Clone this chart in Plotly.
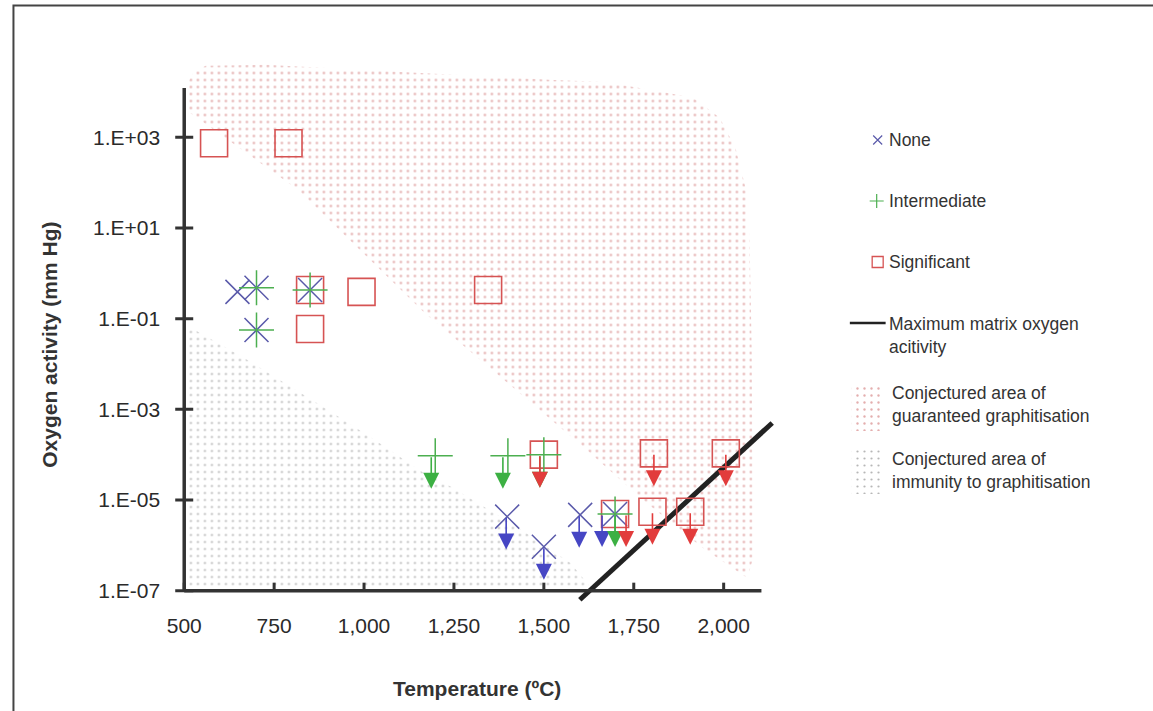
import math
import plotly.graph_objects as go

# ---------------- data ----------------
none_T = [648, 701, 701, 850, 1398, 1500, 1601, 1698]
none_O = [0.39, 0.48, 0.056, 0.43, 4.3e-6, 9.3e-7, 4.7e-6, 4.9e-6]
none_upper = [0, 0, 0, 0, 1, 1, 1, 1]
none_arrow_dx = [0, 0, 0, 0, -1, 0, -1, -13]

inter_T = [701, 701, 850, 1198, 1400, 1500, 1698]
inter_O = [0.48, 0.056, 0.43, 9.5e-5, 9.5e-5, 1.0e-4, 4.9e-6]
inter_upper = [0, 0, 0, 1, 1, 1, 1]
inter_arrow_dx = [0, 0, 0, -4, -5, -4, 0]

sig_T = [583, 790, 850, 850, 993, 1345, 1500, 1698, 1806, 1802, 1907, 2006]
sig_O = [740, 740, 0.43, 0.059, 0.39, 0.43, 1.0e-4, 4.9e-6, 1.07e-4, 5.5e-6, 5.5e-6, 1.07e-4]
sig_upper = [0, 0, 0, 0, 0, 0, 1, 1, 1, 1, 1, 1]
sig_arrow_dx = [0, 0, 0, 0, 0, 0, -4, 11, 0, 0, 0, 0]

line_T = [1600, 2135]
line_O = [6.3e-8, 5.0e-4]

guar_T = [505, 507, 527, 560, 726, 892, 1196, 1514, 1666, 1804, 1915, 1989, 2033,
          2061, 2072, 2078, 2080, 2080, 2066, 1942, 1776, 1610, 1168, 817, 505]
guar_logO = [3.60, 4.16, 4.45, 4.58, 4.60, 4.53, 4.40, 4.27, 4.22, 4.04, 3.87, 3.43, 2.76,
             1.88, 0.74, -1.69, -4.34, -6.33, -6.72, -6.06, -5.00, -3.83, -0.87, 1.84, 3.60]

imm_T = [505, 505, 661, 752, 899, 1029, 1167, 1242, 1425, 1574, 1638, 505]
imm_logO = [-7.0, -1.14, -1.84, -2.28, -3.01, -3.67, -4.41, -4.71, -5.59, -6.39, -7.0, -7.0]

x_ticks = [500, 750, 1000, 1250, 1500, 1750, 2000]
x_ticktext = ["500", "750", "1,000", "1,250", "1,500", "1,750", "2,000"]
y_ticks = [1e-7, 1e-5, 1e-3, 1e-1, 1e1, 1e3]
y_ticktext = ["1.E-07", "1.E-05", "1.E-03", "1.E-01", "1.E+01", "1.E+03"]

legend_labels = ["None", "Intermediate", "Significant",
                 "Maximum matrix oxygen<br>acitivity",
                 "Conjectured area of<br>guaranteed graphitisation",
                 "Conjectured area of<br>immunity to graphitisation"]

# ---------------- styles ----------------
W, H = 1153, 711
BLUE = "#5a5aaa"
GREEN = "#4caf50"
RED = "#d65353"
BLUE_A = "#4646c4"
GREEN_A = "#3cb043"
RED_A = "#e23c3c"
AXIS = "#333333"
FONT = "Liberation Sans, Arial, sans-serif"

XR = [470, 2140]
YR = [-7.25, 4.65]
XDOM = [167.45 / W, 771.7 / W]
YDOM = [1 - 602.0 / H, 1 - 62.5 / H]

red_pat = dict(shape=".", fgcolor="rgba(195,75,75,0.9)", bgcolor="rgba(255,255,255,0)",
               size=7, solidity=0.09)
gray_pat = dict(shape=".", fgcolor="rgba(95,95,95,0.9)", bgcolor="rgba(255,255,255,0)",
                size=7, solidity=0.08)

fig = go.Figure()

# regions
fig.add_trace(go.Scatter(x=guar_T, y=[10 ** v for v in guar_logO], mode="lines",
                         line=dict(width=0), fill="toself",
                         fillcolor="rgba(255,255,255,0)", fillpattern=red_pat,
                         hoverinfo="skip", showlegend=False))
fig.add_trace(go.Scatter(x=imm_T, y=[10 ** v for v in imm_logO], mode="lines",
                         line=dict(width=0), fill="toself",
                         fillcolor="rgba(255,255,255,0)", fillpattern=gray_pat,
                         hoverinfo="skip", showlegend=False))

# max matrix line
fig.add_trace(go.Scatter(x=line_T, y=line_O, mode="lines",
                         line=dict(color="#222222", width=5), showlegend=False))

# markers
fig.add_trace(go.Scatter(x=sig_T, y=sig_O, mode="markers",
                         marker=dict(symbol="square-open", size=27, color=RED,
                                     line=dict(width=1.6, color=RED)),
                         showlegend=False))
fig.add_trace(go.Scatter(x=none_T, y=none_O, mode="markers",
                         marker=dict(symbol="x-thin-open", size=24, color=BLUE,
                                     line=dict(width=1.5, color=BLUE)),
                         showlegend=False))
fig.add_trace(go.Scatter(x=inter_T, y=inter_O, mode="markers",
                         marker=dict(symbol="cross-thin-open", size=25, color=GREEN,
                                     line=dict(width=1.5, color=GREEN)),
                         showlegend=False))

annotations = []
ARROW_LEN = 33
for T, O, up, dx, col in [(t, o, u, d, BLUE_A) for t, o, u, d in zip(none_T, none_O, none_upper, none_arrow_dx)] + \
        [(t, o, u, d, GREEN_A) for t, o, u, d in zip(inter_T, inter_O, inter_upper, inter_arrow_dx)] + \
        [(t, o, u, d, RED_A) for t, o, u, d in zip(sig_T, sig_O, sig_upper, sig_arrow_dx)]:
    if not up:
        continue
    annotations.append(dict(x=T, y=math.log10(O), xref="x", yref="y", text="",
                            showarrow=True, arrowhead=2, arrowsize=2.0, arrowwidth=1.6,
                            arrowcolor=col, ax=0, ay=-ARROW_LEN, xshift=dx,
                            yshift=-ARROW_LEN))

shapes = []
# axis lines
shapes.append(dict(type="line", xref="x", yref="y", x0=500, x1=2105, y0=1e-7, y1=1e-7,
                   line=dict(color=AXIS, width=3.5)))
shapes.append(dict(type="line", xref="x", yref="y", x0=500, x1=500, y0=1e-7, y1=10 ** 4.09,
                   line=dict(color=AXIS, width=3.5)))
for yv in y_ticks:
    shapes.append(dict(type="line", xref="x", yref="y", xsizemode="pixel", xanchor=500,
                       x0=-9, x1=9, y0=yv, y1=yv, line=dict(color=AXIS, width=3)))
for xv in x_ticks:
    shapes.append(dict(type="line", xref="x", yref="y", ysizemode="pixel", yanchor=1e-7,
                       y0=-8, y1=8, x0=xv, x1=xv, line=dict(color=AXIS, width=3)))
# outer frame
shapes.append(dict(type="rect", xref="paper", yref="paper", x0=6.5 / W, y0=-0.02,
                   x1=1.02, y1=1 - 5.5 / H, line=dict(color="#444444", width=2)))

# ---------------- legend (pixel-space overlay axes) ----------------
fig.add_trace(go.Scatter(x=[876], y=[140], xaxis="x2", yaxis="y2", mode="markers",
                         marker=dict(symbol="x-thin-open", size=9, color=BLUE,
                                     line=dict(width=1.2, color=BLUE)), showlegend=False))
fig.add_trace(go.Scatter(x=[875], y=[201], xaxis="x2", yaxis="y2", mode="markers",
                         marker=dict(symbol="cross-thin-open", size=10, color=GREEN,
                                     line=dict(width=1.2, color=GREEN)), showlegend=False))
fig.add_trace(go.Scatter(x=[876], y=[262], xaxis="x2", yaxis="y2", mode="markers",
                         marker=dict(symbol="square-open", size=11, color=RED,
                                     line=dict(width=1.3, color=RED)), showlegend=False))
fig.add_trace(go.Scatter(x=[848, 884], y=[323, 323], xaxis="x2", yaxis="y2", mode="lines",
                         line=dict(color="#222222", width=2.5), showlegend=False))
fig.add_trace(go.Scatter(x=[850, 881, 881, 850, 850], y=[386, 386, 431, 431, 386],
                         xaxis="x2", yaxis="y2", mode="lines", line=dict(width=0),
                         fill="toself", fillcolor="rgba(255,255,255,0)",
                         fillpattern=red_pat, showlegend=False))
fig.add_trace(go.Scatter(x=[850, 881, 881, 850, 850], y=[449, 449, 494, 494, 449],
                         xaxis="x2", yaxis="y2", mode="lines", line=dict(width=0),
                         fill="toself", fillcolor="rgba(255,255,255,0)",
                         fillpattern=gray_pat, showlegend=False))

leg_pos = [(885, 140), (885, 201), (885, 262), (885, 335), (888, 404.5), (888, 470)]
for (lx, ly), txt in zip(leg_pos, legend_labels):
    annotations.append(dict(x=lx, y=ly, xref="x2", yref="y2", text=txt, showarrow=False,
                            xanchor="left", yanchor="middle", align="left",
                            font=dict(family=FONT, size=17.5, color="#333333")))

# axis titles
annotations.append(dict(x=473, y=688, xref="x2", yref="y2", text="<b>Temperature (ºC)</b>",
                        showarrow=False, font=dict(family=FONT, size=21, color="#333333")))
annotations.append(dict(x=42, y=345, xref="x2", yref="y2", text="<b>Oxygen activity (mm Hg)</b>",
                        showarrow=False, textangle=-90,
                        font=dict(family=FONT, size=21, color="#333333")))

fig.update_layout(
    width=W, height=H, autosize=False,
    margin=dict(l=0, r=0, t=0, b=0),
    paper_bgcolor="white", plot_bgcolor="rgba(0,0,0,0)",
    showlegend=False, hovermode=False,
    xaxis=dict(domain=XDOM, range=XR, tickvals=x_ticks, ticktext=x_ticktext,
               showgrid=False, zeroline=False, showline=False, ticks="outside",
               ticklen=5, tickcolor="rgba(0,0,0,0)",
               tickfont=dict(family=FONT, size=21, color="#2a2a2a"), anchor="y"),
    yaxis=dict(domain=YDOM, type="log", range=YR, tickvals=y_ticks, ticktext=y_ticktext,
               showgrid=False, zeroline=False, showline=False, ticks="outside",
               ticklen=8, tickcolor="rgba(0,0,0,0)",
               tickfont=dict(family=FONT, size=21, color="#2a2a2a"), anchor="x"),
    xaxis2=dict(domain=[0, 1], range=[0, W], visible=False, anchor="y2", fixedrange=True),
    yaxis2=dict(domain=[0, 1], range=[H, 0], visible=False, anchor="x2", fixedrange=True),
    shapes=shapes,
    annotations=annotations,
)

fig.write_html("out.html", config={"displayModeBar": False, "staticPlot": True},
               post_script="document.body.style.margin='0px';")
